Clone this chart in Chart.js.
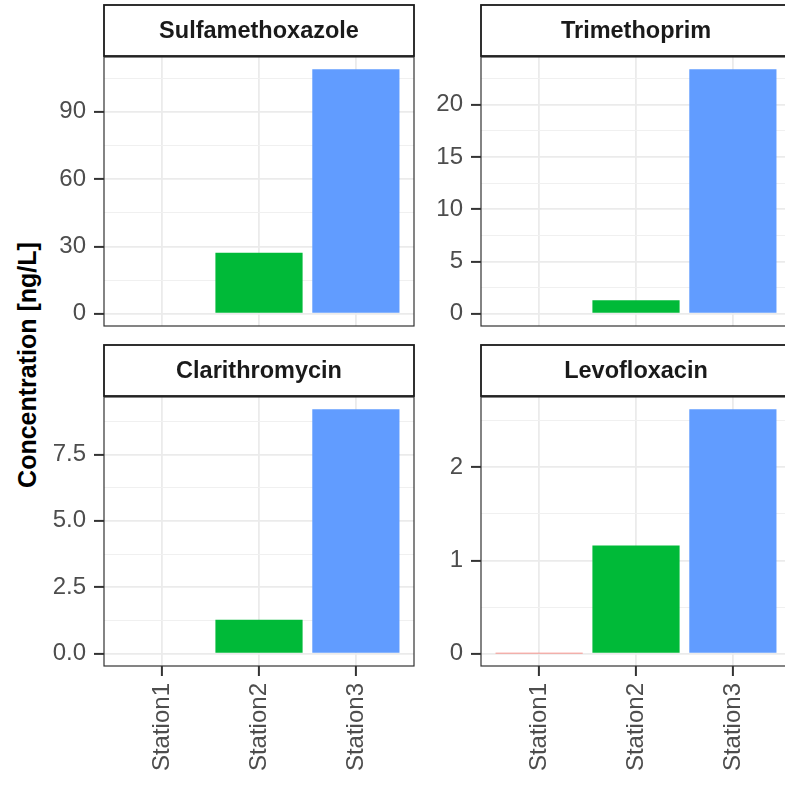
<!DOCTYPE html>
<html>
<head>
<meta charset="utf-8">
<script src="https://cdn.jsdelivr.net/npm/chart.js@4.4.1/dist/chart.umd.min.js"></script>
<style>
    html, body { margin: 0; padding: 0; background: #ffffff; }
    body { width: 785px; height: 787px; overflow: hidden; position: relative; }
    canvas { position: absolute; display: block; }
    #ytitle {
        position: absolute; left: 27px; top: 365px;
        transform: translate(-50%, -50%) rotate(-90deg);
        font-family: "Liberation Sans", Arial, sans-serif;
        font-weight: bold; font-size: 25px; color: #000000; white-space: nowrap;
    }
</style>
</head>
<body>
<div id="ytitle">Concentration [ng/L]</div>
<script>
const stations = ['Station1', 'Station2', 'Station3'];
const stationColors = ['#F8766D', '#00BA38', '#619CFF'];

const sulfamethoxazole = [0, 27.2, 109];
const trimethoprim = [0, 1.3, 23.4];
const clarithromycin = [0, 1.28, 9.2];
const levofloxacin = [0.004, 1.16, 2.62];

const sulfamethoxazoleTicks = [0, 30, 60, 90];
const trimethoprimTicks = [0, 5, 10, 15, 20];
const clarithromycinTicks = [0, 2.5, 5, 7.5];
const levofloxacinTicks = [0, 1, 2];

const options = {
    fontFamily: '"Liberation Sans", Arial, sans-serif',
    axisColor: '#333333',
    gridColor: '#EBEBEB',
    minorGridColor: '#F0F0F0',
    tickTextColor: '#4D4D4D',
    stripTextColor: '#1A1A1A',
    tickFontSize: 24,
    stripFontSize: 23.5,
    yAxisWidth: 60,
    panelWidth: 310,
    panelHeight: 269,
    stripSpace: 57,
    stripHeight: 51,
    xAxisHeight: 121,
    tickLength: 10,
};

const panels = [
    { title: 'Sulfamethoxazole', values: sulfamethoxazole, ticks: sulfamethoxazoleTicks, digits: 0, left: 44, top: 0, bottomRow: false },
    { title: 'Trimethoprim', values: trimethoprim, ticks: trimethoprimTicks, digits: 0, left: 421, top: 0, bottomRow: false },
    { title: 'Clarithromycin', values: clarithromycin, ticks: clarithromycinTicks, digits: 1, left: 44, top: 340, bottomRow: true },
    { title: 'Levofloxacin', values: levofloxacin, ticks: levofloxacinTicks, digits: 0, left: 421, top: 340, bottomRow: true },
];

// strip label above each panel plus the dark panel frame
const facetPlugin = {
    id: 'facet',
    afterDraw(chart, args, opts) {
        const { ctx, chartArea } = chart;
        const w = chartArea.right - chartArea.left;
        ctx.save();
        ctx.strokeStyle = options.axisColor;
        ctx.lineWidth = 1.2;
        ctx.strokeRect(chartArea.left, chartArea.top, w, chartArea.bottom - chartArea.top);

        const stripY = chartArea.top - options.stripHeight - 1;
        ctx.fillStyle = '#ffffff';
        ctx.fillRect(chartArea.left, stripY, w, options.stripHeight);
        ctx.strokeStyle = '#1A1A1A';
        ctx.lineWidth = 1.8;
        ctx.strokeRect(chartArea.left, stripY, w, options.stripHeight);

        ctx.fillStyle = options.stripTextColor;
        ctx.font = `bold ${options.stripFontSize}px ${options.fontFamily}`;
        ctx.textAlign = 'center';
        ctx.textBaseline = 'middle';
        ctx.fillText(opts.title, chartArea.left + w / 2, stripY + options.stripHeight / 2 + 1);
        ctx.restore();
    }
};

function minorTicks(major, min, max) {
    const step = major[1] - major[0];
    const out = [];
    for (let v = major[0] - step / 2; v <= max; v += step) {
        if (v >= min) out.push(v);
    }
    return out;
}

function createPanel(panel) {
    const canvas = document.createElement('canvas');
    const width = options.yAxisWidth + options.panelWidth + 2;
    const height = options.stripSpace + options.panelHeight + (panel.bottomRow ? options.xAxisHeight : 3);
    canvas.width = width;
    canvas.height = height;
    canvas.style.width = `${width}px`;
    canvas.style.height = `${height}px`;
    canvas.style.left = `${panel.left}px`;
    canvas.style.top = `${panel.top}px`;
    document.body.appendChild(canvas);

    const dataMax = Math.max(...panel.values);
    const yMin = -0.05 * dataMax;
    const yMax = 1.05 * dataMax;
    const isMajor = (v) => panel.ticks.includes(v);
    const allTicks = panel.ticks.concat(minorTicks(panel.ticks, yMin, yMax)).sort((a, b) => a - b);

    return new Chart(canvas, {
        type: 'bar',
        data: {
            datasets: [{
                data: panel.values.map((v, i) => ({ x: i + 1, y: v })),
                backgroundColor: stationColors,
                borderWidth: 0,
                barPercentage: 0.9,
                categoryPercentage: 1,
            }]
        },
        options: {
            responsive: false,
            animation: false,
            devicePixelRatio: 1,
            layout: { padding: { top: options.stripSpace, right: 2, bottom: panel.bottomRow ? 0 : 3, left: 0 } },
            plugins: {
                legend: { display: false },
                tooltip: { enabled: false },
                facet: { title: panel.title },
            },
            scales: {
                x: {
                    type: 'linear',
                    min: 0.4,
                    max: 3.6,
                    offset: false,
                    afterBuildTicks: (s) => { s.ticks = stations.map((_, i) => ({ value: i + 1 })); },
                    afterFit: (s) => {
                        s.height = panel.bottomRow ? options.xAxisHeight : 0;
                        s.paddingLeft = 0;
                        s.paddingRight = 0;
                    },
                    border: { display: false },
                    grid: {
                        offset: false,
                        color: options.gridColor,
                        lineWidth: 1.8,
                        drawTicks: panel.bottomRow,
                        tickLength: options.tickLength,
                        tickColor: options.axisColor,
                        tickWidth: 2,
                    },
                    ticks: {
                        display: panel.bottomRow,
                        autoSkip: false,
                        minRotation: 90,
                        maxRotation: 90,
                        padding: 7,
                        color: options.tickTextColor,
                        font: { family: options.fontFamily, size: options.tickFontSize },
                        callback: (v) => stations[Math.round(v) - 1],
                    },
                },
                y: {
                    type: 'linear',
                    min: yMin,
                    max: yMax,
                    afterBuildTicks: (s) => { s.ticks = allTicks.map((v) => ({ value: v })); },
                    afterFit: (s) => {
                        s.width = options.yAxisWidth;
                        s.paddingTop = 0;
                        s.paddingBottom = 0;
                    },
                    border: { display: false },
                    grid: {
                        color: (c) => isMajor(c.tick.value) ? options.gridColor : options.minorGridColor,
                        lineWidth: (c) => isMajor(c.tick.value) ? 1.8 : 1,
                        tickLength: options.tickLength,
                        tickColor: (c) => isMajor(c.tick.value) ? options.axisColor : 'rgba(0,0,0,0)',
                        tickWidth: 2,
                    },
                    ticks: {
                        autoSkip: false,
                        padding: 8,
                        color: options.tickTextColor,
                        font: { family: options.fontFamily, size: options.tickFontSize },
                        callback: (v) => isMajor(v) ? v.toFixed(panel.digits) : '',
                    },
                },
            },
        },
        plugins: [facetPlugin],
    });
}

window.onload = function () {
    panels.forEach(createPanel);
};
</script>
</body>
</html>
